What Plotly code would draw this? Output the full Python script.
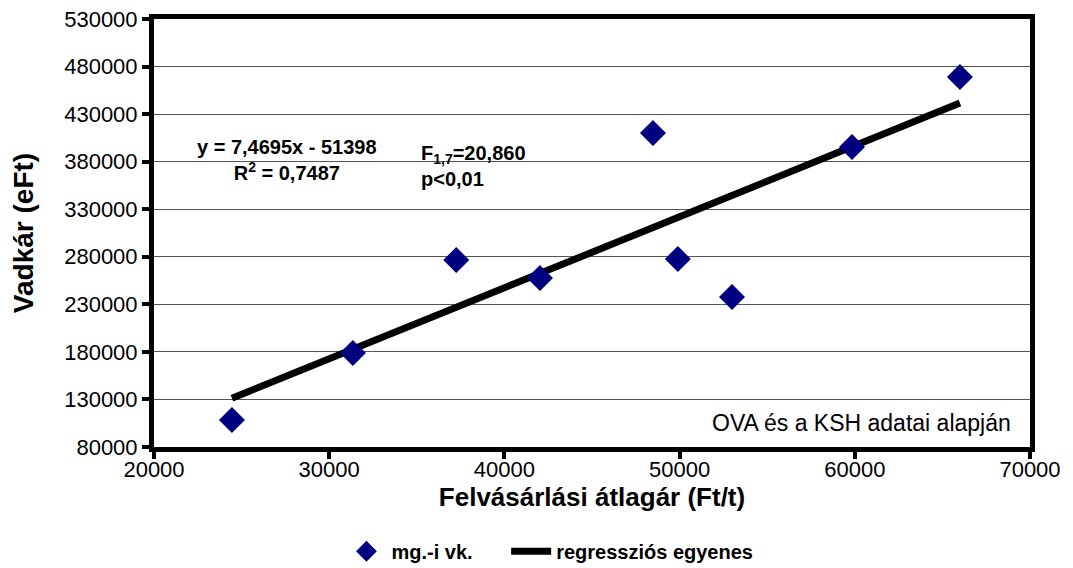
import plotly.graph_objects as go

# Adatok: felvásárlási átlagár (Ft/t) és vadkár (eFt)
atlagar = [24450, 31350, 37250, 42030, 48480, 49900, 52990, 59840, 66000]
vadkar = [108400, 178800, 276600, 257700, 410200, 277700, 237700, 395500, 469000]

# Regressziós egyenes paraméterei (a diagramon kiírt értékek)
meredekseg = 7.4695
tengelymetszet = -51398

x_ticks = [20000, 30000, 40000, 50000, 60000, 70000]
y_ticks = [80000, 130000, 180000, 230000, 280000, 330000, 380000, 430000, 480000, 530000]

FONT = "Liberation Sans, Arial, sans-serif"

reg_x = [min(atlagar), max(atlagar)]
reg_y = [meredekseg * v + tengelymetszet for v in reg_x]

fig = go.Figure()

# egyenes előbb, hogy a pontok fölötte legyenek
fig.add_trace(go.Scatter(
    x=reg_x, y=reg_y,
    mode="lines",
    line=dict(color="black", width=7),
    name="regressziós egyenes",
    legend="legend2",
))

fig.add_trace(go.Scatter(
    x=atlagar, y=vadkar,
    mode="markers",
    marker=dict(symbol="diamond", size=20, color="#000080"),
    name="mg.-i vk.",
    legend="legend",
))

axis_common = dict(
    showline=True, linecolor="black", linewidth=5, mirror=True,
    ticks="outside", ticklen=7, tickwidth=4, tickcolor="black",
    tickfont=dict(family=FONT, size=22, color="black"),
    zeroline=False,
)

fig.update_xaxes(
    range=[20000, 70000], tickvals=x_ticks, ticktext=[str(v) for v in x_ticks],
    showgrid=False, ticklabelstandoff=-8,
    title=dict(text="<b>Felvásárlási átlagár (Ft/t)</b>",
               font=dict(family=FONT, size=26, color="black"), standoff=0),
    **axis_common,
)
fig.update_yaxes(
    range=[80000, 530000], tickvals=y_ticks, ticktext=[str(v) for v in y_ticks],
    showgrid=True, gridcolor="#555555", gridwidth=1,
    title=dict(text="<b>Vadkár (eFt)</b>",
               font=dict(family=FONT, size=28, color="black"), standoff=24),
    **axis_common,
)

fig.add_annotation(
    x=0.152, y=0.671, xref="paper", yref="paper", xanchor="center", yanchor="middle",
    text="<b>y = 7,4695x - 51398<br>R<sup>2</sup> = 0,7487</b>",
    showarrow=False, align="center",
    font=dict(family=FONT, size=20, color="black"),
)
fig.add_annotation(
    x=0.302, y=0.657, xref="paper", yref="paper", xanchor="left", yanchor="middle",
    text="<b>F<sub>1,7</sub>=20,860<br>p<0,01</b>",
    showarrow=False, align="left",
    font=dict(family=FONT, size=20, color="black"),
)
fig.add_annotation(
    x=0.981, y=0.056, xref="paper", yref="paper", xanchor="right", yanchor="middle",
    text="OVA és a KSH adatai alapján",
    showarrow=False,
    font=dict(family=FONT, size=23, color="black"),
)

legend_font = dict(family=FONT, size=20, color="black", weight="bold")

fig.update_layout(
    width=1073, height=568,
    margin=dict(l=154, r=43, t=19, b=121, autoexpand=False),
    plot_bgcolor="white", paper_bgcolor="white",
    font=dict(family=FONT, color="black"),
    showlegend=True,
    legend=dict(orientation="h", x=0.214, xanchor="left", y=-0.198, yanchor="top",
                font=legend_font, itemwidth=40),
    legend2=dict(orientation="h", x=0.402, xanchor="left", y=-0.198, yanchor="top",
                 font=legend_font, itemwidth=40),
)

# a böngésző alapértelmezett 8 px-es margója nélkül
fig.write_html("out.html", config={"displayModeBar": False},
               post_script="document.body.style.margin = '0px';")
